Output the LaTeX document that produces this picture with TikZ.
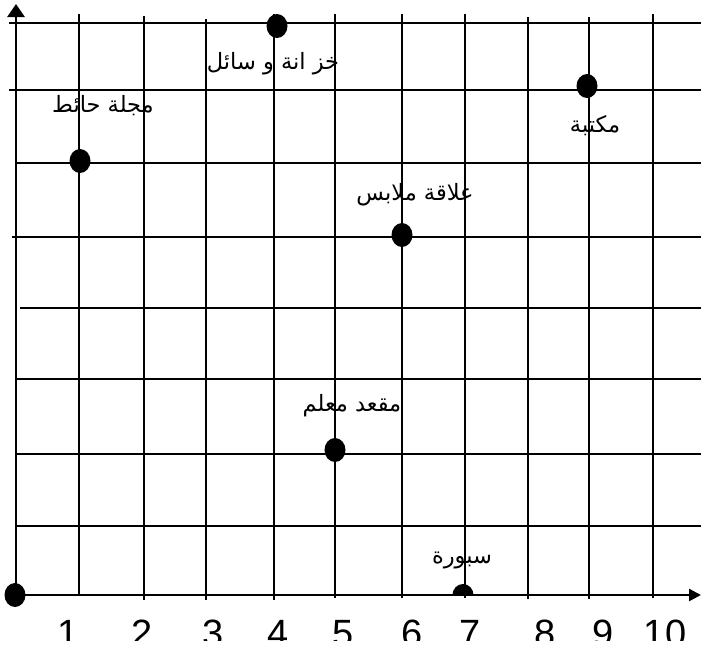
\documentclass[tikz,border=0pt]{standalone}
\usepackage{fontspec}
\setmainfont{Liberation Sans}
\newfontfamily\arabicfont[Script=Arabic]{DejaVu Sans}
\TeXXeTstate=1
\usetikzlibrary{arrows.meta,shapes.geometric}
\begin{document}
\begin{tikzpicture}[x=1pt,y=-1pt,
  gridline/.style={line width=1.6pt},
  axisline/.style={line width=2.4pt},
  dot/.style={ellipse, fill=black, minimum width=21pt, minimum height=24pt, inner sep=0pt},
  lab/.style={font=\arabicfont\fontsize{22.5}{26}\selectfont, inner sep=0pt},
  num/.style={font=\fontsize{38}{40}\selectfont, inner sep=0pt, anchor=north}]
\useasboundingbox (0,0) rectangle (701,651);
% grid
\foreach \y/\l in {23/9, 90/9, 163/15, 237/12, 308/20, 379/15, 454/15, 526/15}
  \draw[gridline] (\l,\y) -- (701,\y);
\foreach \x/\t/\b in {79/14/595, 144/16/600, 206/19/600, 274/14/600, 335/14/598, 402/14/598, 465/14/598, 528/17/599, 589/17/599, 653/14/598}
  \draw[gridline] (\x,\t) -- (\x,\b);
% axes
\coordinate (O) at (16,600);
\coordinate (Ytip) at (16,4);
\coordinate (Xs) at (15,595);
\coordinate (Xtip) at (701,595);
\draw[line width=2.8pt, -{Triangle[length=13pt,width=17pt]}] (O) -- (Ytip);
\draw[axisline, -{Triangle[length=12pt,width=12pt]}] (Xs) -- (Xtip);
% dots
\node[dot] (o) at (15,595) {};
\node[dot] (majalla) at (80,161) {};
\node[dot] (khizana) at (277,26) {};
\node[dot] (maktaba) at (587,86) {};
\node[dot] (allaqa) at (402,235) {};
\node[dot] (maqad) at (335,450) {};
\coordinate (sabbura) at (463,595);
\fill (452.5,595) arc[start angle=180, end angle=360, x radius=10.5, y radius=11] -- cycle;
% labels
\node[lab] (lmajalla) at (103,106) {\beginR مجلة حائط\endR};
\node[lab] (lkhizana) at (273,64) {\beginR خز انة و سائل\endR};
\node[lab] (lmaktaba) at (595,126) {\beginR مكتبة\endR};
\node[lab] (lallaqa) at (415,195) {\beginR علاقة ملابس\endR};
\node[lab] (lmaqad) at (352,406) {\beginR مقعد معلم\endR};
\node[lab] (lsabbura) at (462,560) {\beginR سبورة\endR};
% numbers
\begin{scope}
\clip (0,600) rectangle (701,640);
\foreach \n/\x in {1/68, 2/142, 3/213, 4/278, 5/343, 6/412, 7/470, 8/545, 9/603, 10/665}
  \node[num] (n\n) at (\x,620) {\n};
\end{scope}
\end{tikzpicture}
\end{document}
